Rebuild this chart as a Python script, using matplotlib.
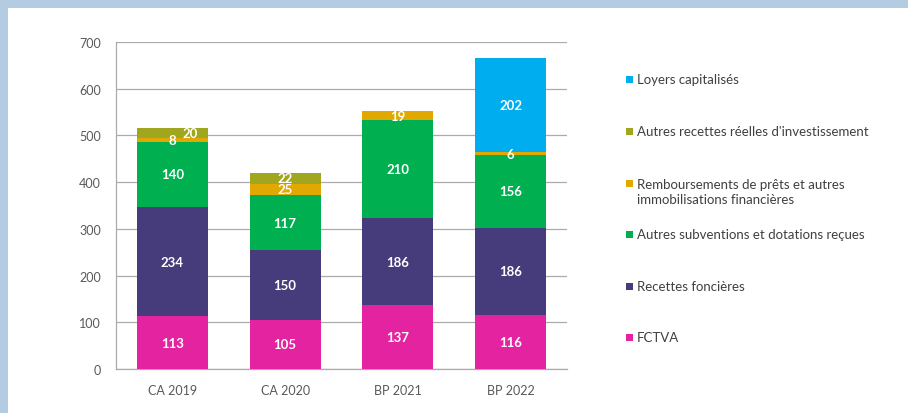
import matplotlib
matplotlib.use("Agg")
import matplotlib.pyplot as plt
from matplotlib.patches import Rectangle
import numpy as np

plt.rcParams['font.family'] = ['Lato', 'DejaVu Sans']

categories = ["CA 2019", "CA 2020", "BP 2021", "BP 2022"]
series_names = [
    "FCTVA",
    "Recettes foncières",
    "Autres subventions et dotations reçues",
    "Remboursements de prêts et autres\nimmobilisations financières",
    "Autres recettes réelles d'investissement",
    "Loyers capitalisés",
]
fctva = [113, 105, 137, 116]
foncieres = [234, 150, 186, 186]
subventions = [140, 117, 210, 156]
remboursements = [8, 25, 19, 6]
autres_recettes = [20, 22, 0, 0]
loyers = [0, 0, 0, 202]
colors = ["#E3239F", "#463C7C", "#00AF50", "#E0A800", "#A0A61E", "#00AEEF"]
yticks = [0, 100, 200, 300, 400, 500, 600, 700]

W, H = 908, 414
fig = plt.figure(figsize=(W / 100, H / 100), dpi=100)
fig.patch.set_facecolor("white")

# light blue frame (top and left)
frame = "#B4CCE2"
fig.patches.append(Rectangle((0, 1 - 9 / H), 1, 9 / H, transform=fig.transFigure,
                             facecolor=frame, edgecolor="none", zorder=0))
fig.patches.append(Rectangle((0, 0), 8 / W, 1, transform=fig.transFigure,
                             facecolor=frame, edgecolor="none", zorder=0))

ax = fig.add_axes([116 / W, 1 - 370 / H, 451 / W, 327 / H])
x = np.arange(len(categories))
data = [fctva, foncieres, subventions, remboursements, autres_recettes, loyers]
bottom = np.zeros(len(categories))
for si, (vals, col) in enumerate(zip(data, colors)):
    vals = np.array(vals, dtype=float)
    ax.bar(x, vals, width=0.63, bottom=bottom, color=col, zorder=3)
    for i, v in enumerate(vals):
        if v > 0:
            dx = 0.16 if (si == 4 and i == 0) else 0.0
            ax.text(x[i] + dx, bottom[i] + v / 2, f"{int(v)}", ha="center", va="center",
                    color="white", fontsize=9.5, fontweight="bold", zorder=4)
    bottom += vals

ax.set_xlim(-0.5, 3.5)
ax.set_ylim(0, 700)
ax.set_yticks(yticks)
ax.set_xticks(x)
ax.set_xticklabels(categories)
ax.tick_params(axis="both", length=0, labelsize=9, colors="#595959")
ax.tick_params(axis="x", pad=11)
ax.tick_params(axis="y", pad=11)
ax.yaxis.grid(True, color="#ABABAB", linewidth=0.9, zorder=0)
for s in ["top", "right"]:
    ax.spines[s].set_visible(False)
for s in ["left", "bottom"]:
    ax.spines[s].set_color("#ABABAB")
    ax.spines[s].set_linewidth(0.9)

# legend (manual, top to bottom)
leg_y = [80.5, 132, 192.5, 235, 287, 338.5]
order = [5, 4, 3, 2, 1, 0]
for yy, si in zip(leg_y, order):
    hy = 184 if si == 3 else yy
    fig.patches.append(Rectangle((626 / W, 1 - (hy + 3.5) / H), 7 / W, 7 / H,
                                 transform=fig.transFigure, facecolor=colors[si],
                                 edgecolor="none"))
    fig.text(637 / W, 1 - yy / H, series_names[si], ha="left", va="center",
             fontsize=9.5, color="#404040", linespacing=1.35)

fig.savefig("out.png", dpi=100)
